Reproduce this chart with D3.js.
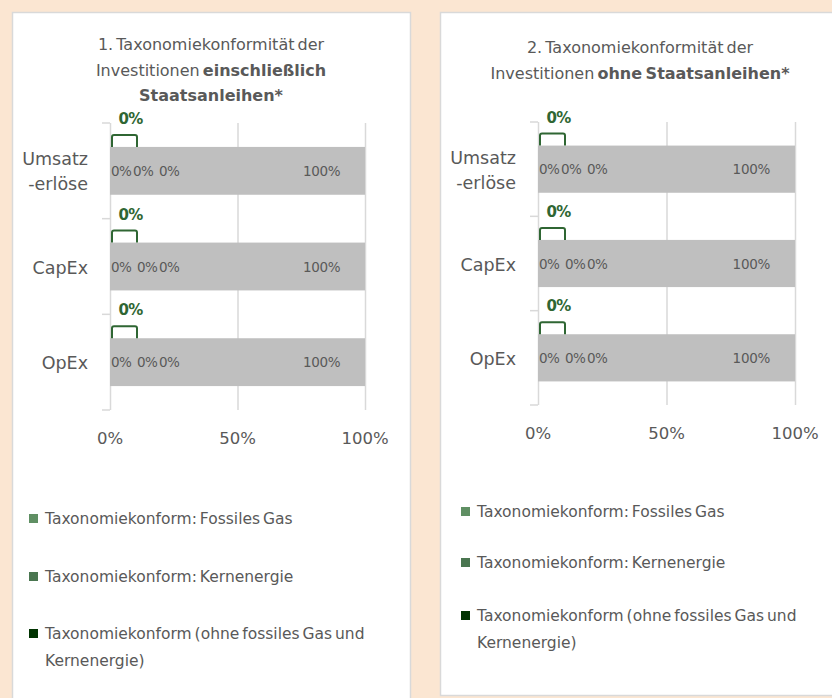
<!DOCTYPE html>
<html>
<head>
<meta charset="utf-8">
<script src="https://d3js.org/d3.v7.min.js"></script>
<style>
  body { margin: 0; background: #fbe6d2; }
  svg { display: block; }
  text { font-family: "DejaVu Sans", sans-serif; }
</style>
</head>
<body>
<script>
// categories (display lines per category)
const categories = ["Umsatzerlöse", "CapEx", "OpEx"];
const categoryLines = [["Umsatz", "-erlöse"], ["CapEx"], ["OpEx"]];

// series values (%) per panel
const fossilGas1 = [0, 0, 0];
const nuclear1 = [0, 0, 0];
const aligned1 = [0, 0, 0];
const other1 = [100, 100, 100];
const total1 = [0, 0, 0];

const fossilGas2 = [0, 0, 0];
const nuclear2 = [0, 0, 0];
const aligned2 = [0, 0, 0];
const other2 = [100, 100, 100];
const total2 = [0, 0, 0];

const ticks = [0, 50, 100];
const legendLabels = [
  ["Taxonomiekonform: Fossiles Gas"],
  ["Taxonomiekonform: Kernenergie"],
  ["Taxonomiekonform (ohne fossiles Gas und", "Kernenergie)"]
];
const legendColors = ["#5f8f63", "#4a7650", "#013301"];

const panels = [
  {
    title: [[["1. Taxonomiekonformität der", false]],
            [["Investitionen ", false], ["einschließlich", true]],
            [["Staatsanleihen*", true]]],
    fossil: fossilGas1, nuclear: nuclear1, aligned: aligned1, other: other1, total: total1,
    box: [12, 12, 398, 700], cx: 211, titleY: 50,
    xr: [110, 365], yr: [123, 410],
    legX: 29, legY: [518, 576, 633]
  },
  {
    title: [[["2. Taxonomiekonformität der", false]],
            [["Investitionen ", false], ["ohne Staatsanleihen*", true]]],
    fossil: fossilGas2, nuclear: nuclear2, aligned: aligned2, other: other2, total: total2,
    box: [440, 12, 400, 683], cx: 640, titleY: 53,
    xr: [538, 795], yr: [122, 405],
    legX: 461, legY: [511, 562, 615]
  }
];

const svg = d3.select("body").append("svg")
  .attr("width", 832).attr("height", 698);

const textGray = "#595959";
const green = "#2f6633";

panels.forEach(function(p){
  const g = svg.append("g");
  g.append("rect")
    .attr("x", p.box[0] + 0.5).attr("y", p.box[1] + 0.5)
    .attr("width", p.box[2]).attr("height", p.box[3])
    .attr("fill", "#fff").attr("stroke", "#d9d9d9").attr("stroke-width", 1.5);

  // title
  p.title.forEach(function(line, i){
    const t = g.append("text")
      .attr("x", p.cx).attr("y", p.titleY + i * 25.5)
      .attr("text-anchor", "middle")
      .attr("font-size", 16).attr("word-spacing", -2).attr("fill", textGray);
    line.forEach(function(part){
      t.append("tspan").text(part[0]).attr("font-weight", part[1] ? "bold" : null);
    });
  });

  const x = d3.scaleLinear().domain([0, 100]).range(p.xr);
  const y = d3.scaleBand().domain(categories).range(p.yr).paddingInner(0.5).paddingOuter(0.25);
  const yb = d3.scaleBand().domain(categories).range(p.yr);

  // gridlines
  g.selectAll(".grid").data(ticks).enter().append("line")
    .attr("x1", d => x(d) + 0.5).attr("x2", d => x(d) + 0.5)
    .attr("y1", p.yr[0]).attr("y2", p.yr[1])
    .attr("stroke", "#d9d9d9").attr("stroke-width", 1.5);

  // y axis small ticks at band boundaries
  const bounds = categories.map(c => yb(c)).concat([p.yr[1]]);
  g.selectAll(".ytick").data(bounds).enter().append("line")
    .attr("x1", x(0) - 8).attr("x2", x(0))
    .attr("y1", d => d).attr("y2", d => d)
    .attr("stroke", "#d9d9d9").attr("stroke-width", 1.5);

  // stacked bars
  const stacks = categories.map(function(c, i){
    const vals = [p.fossil[i], p.nuclear[i], p.aligned[i], p.other[i]];
    let acc = 0;
    return vals.map(function(v, k){ const s = {cat: c, k: k, v: v, x0: acc, x1: acc + v}; acc += v; return s; });
  });
  const segColors = [legendColors[0], legendColors[1], legendColors[2], "#bfbfbf"];
  stacks.forEach(function(st){
    g.selectAll(null).data(st).enter().append("rect")
      .attr("x", d => x(d.x0)).attr("y", d => y(d.cat))
      .attr("width", d => x(d.x1) - x(d.x0)).attr("height", y.bandwidth())
      .attr("fill", d => segColors[d.k]);
  });

  // in-bar labels
  stacks.forEach(function(st, i){
    const cy = y(st[0].cat) + y.bandwidth() / 2 + 5;
    const offs = i === 0 ? [1, 23, 49] : [1, 27, 49];
    st.slice(0, 3).forEach(function(d, k){
      g.append("text")
        .attr("x", x(d.x0) + offs[k]).attr("y", cy)
        .attr("font-size", 13.5).attr("letter-spacing", -0.5).attr("fill", textGray)
        .text(d.v + "%");
    });
    g.append("text")
      .attr("x", x(83)).attr("y", cy)
      .attr("text-anchor", "middle")
      .attr("font-size", 13.5).attr("letter-spacing", -0.3).attr("fill", textGray)
      .text(st[3].v + "%");
  });

  // total callouts
  categories.forEach(function(c, i){
    const top = y(c);
    const bx0 = x(p.total[i]) + 2, bx1 = bx0 + 25;
    g.append("path")
      .attr("d", `M${bx0},${top} V${top - 10} Q${bx0},${top - 12} ${bx0 + 2},${top - 12} H${bx1 - 2} Q${bx1},${top - 12} ${bx1},${top - 10} V${top}`)
      .attr("fill", "none").attr("stroke", green).attr("stroke-width", 2);
    g.append("text")
      .attr("x", (bx0 + bx1) / 2 + 6).attr("y", top - 23)
      .attr("text-anchor", "middle")
      .attr("font-size", 15).attr("font-weight", "bold").attr("letter-spacing", -0.8).attr("fill", green)
      .text(p.total[i] + "%");
  });

  // category labels
  categories.forEach(function(c, i){
    const lines = categoryLines[i];
    const cy = y(c) + y.bandwidth() / 2;
    lines.forEach(function(l, j){
      g.append("text")
        .attr("x", x(0) - 22)
        .attr("y", cy + 7 + (j - (lines.length - 1) / 2) * 25)
        .attr("text-anchor", "end")
        .attr("font-size", 17.5).attr("fill", textGray)
        .text(l);
    });
  });

  // x axis labels
  g.selectAll(".xl").data(ticks).enter().append("text")
    .attr("x", d => x(d)).attr("y", p.yr[1] + 34)
    .attr("text-anchor", "middle")
    .attr("font-size", 16.5).attr("fill", textGray)
    .text(d => d + "%");

  // legend
  legendLabels.forEach(function(lines, i){
    g.append("rect")
      .attr("x", p.legX).attr("y", p.legY[i] - 4)
      .attr("width", 9).attr("height", 9)
      .attr("fill", legendColors[i]);
    lines.forEach(function(l, j){
      g.append("text")
        .attr("x", p.legX + 16).attr("y", p.legY[i] + 6 + j * 27)
        .attr("font-size", 15.5).attr("word-spacing", -2).attr("fill", textGray)
        .text(l);
    });
  });
});
</script>
</body>
</html>
